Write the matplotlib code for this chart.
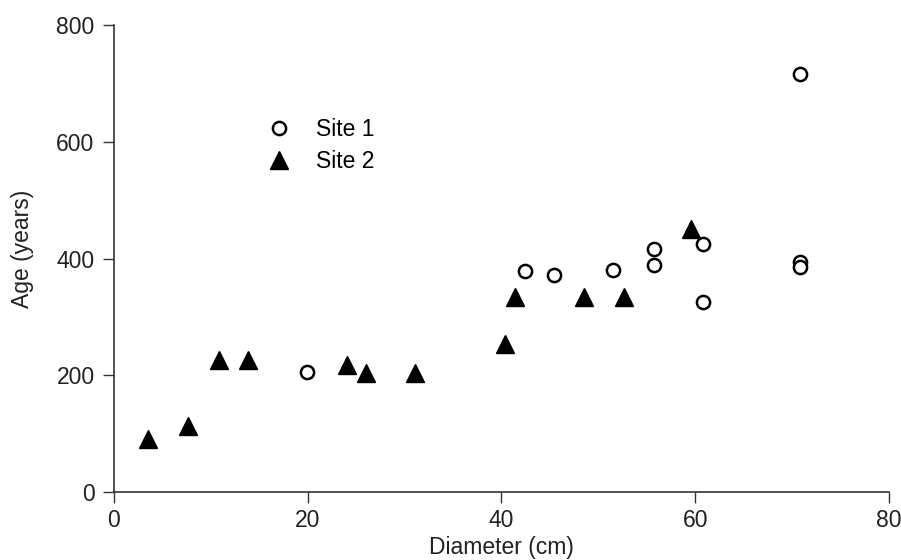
import matplotlib
matplotlib.use('Agg')
import matplotlib.pyplot as plt

plt.rcParams['font.family'] = ['Liberation Sans', 'DejaVu Sans']

# Site 1 (open circles)
site1_diameter = [19.9, 42.4, 45.4, 51.5, 55.7, 55.7, 60.8, 60.8, 70.8, 70.8, 70.8]
site1_age = [205, 379, 372, 380, 416, 389, 425, 326, 717, 395, 385]

# Site 2 (filled triangles)
site2_diameter = [3.5, 7.6, 10.8, 13.8, 24.1, 26.0, 31.1, 40.4, 41.4, 48.5, 52.6, 59.6]
site2_age = [91, 114, 226, 226, 218, 204, 204, 253, 334, 334, 334, 451]

x_ticks = [0, 20, 40, 60, 80]
y_ticks = [0, 200, 400, 600, 800]

fig = plt.figure(figsize=(9.01, 5.60), dpi=100)
ax = fig.add_axes([0.1265, 0.1214, 0.8602, 0.8331])

ax.plot(site1_diameter, site1_age, linestyle='none', marker='o', markersize=9.5,
        markerfacecolor='white', markeredgecolor='black', markeredgewidth=1.8,
        label='Site 1', clip_on=False, zorder=3)
ax.plot(site2_diameter, site2_age, linestyle='none', marker='^', markersize=13.5,
        color='black', label='Site 2', clip_on=False, zorder=3)

ax.set_xlim(0, 80)
ax.set_ylim(0, 800)
ax.set_xticks(x_ticks)
ax.set_yticks(y_ticks)

for side in ['top', 'right']:
    ax.spines[side].set_visible(False)
for side in ['left', 'bottom']:
    ax.spines[side].set_color('#333333')
    ax.spines[side].set_linewidth(1.2)

ax.tick_params(direction='out', length=8, width=1.0, color='#333333',
               labelsize=16.5, labelcolor='#222222')
ax.tick_params(axis='x', pad=4.5)
ax.tick_params(axis='y', pad=6)

ax.set_xlabel('Diameter (cm)', fontsize=16.5, color='#222222')
ax.set_ylabel('Age (years)', fontsize=16.5, color='#222222')
ax.xaxis.set_label_coords(0.5, -0.094)
ax.yaxis.set_label_coords(-0.103, 0.522)

ax.legend(loc='upper left', bbox_to_anchor=(0.198, 0.8016), frameon=False,
          fontsize=16.5, handletextpad=1.1, labelspacing=0.38, borderaxespad=0,
          borderpad=0, handlelength=1.0)

fig.savefig('out.png', dpi=100)
